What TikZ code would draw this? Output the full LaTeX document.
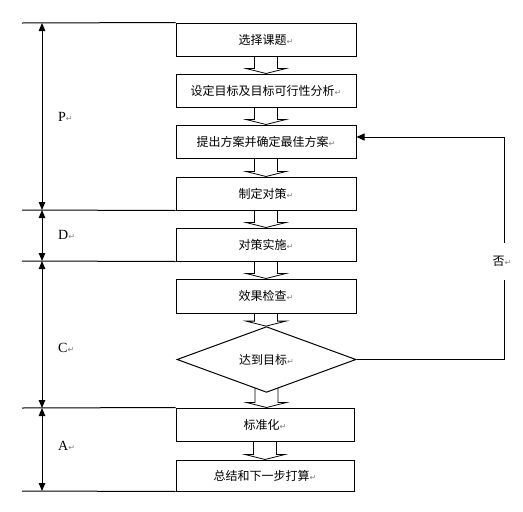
\documentclass[tikz,border=0pt]{standalone}
\usepackage{fontspec}
\setmainfont{Liberation Serif}
\newfontfamily\cjk{Noto Sans CJK SC}
\newfontfamily\dejavu{DejaVu Sans}
\usetikzlibrary{shapes.geometric,arrows.meta,calc}
\pgfdeclarelayer{background}
\pgfsetlayers{background,main}
\newcommand\parmark{{\color{gray}\dejavu\fontsize{8}{8}\selectfont ↵}}
\newcommand\hollowarrow[2]{%
  \begin{pgfonlayer}{background}
  \path let \p1=(#1.south), \p2=(#2.north) in
    [draw, fill=white, line width=0.8pt]
    (\x1-11.5pt,\y1+6pt) -- (\x1-11.5pt,\y2+5pt) -- (\x1-20pt,\y2+5pt) --
    (\x1,\y2) -- (\x1+20pt,\y2+5pt) -- (\x1+11.5pt,\y2+5pt) -- (\x1+11.5pt,\y1+6pt);
  \end{pgfonlayer}}
\begin{document}
\begin{tikzpicture}[x=1pt,y=-1pt,
  stepbox/.style={draw, fill=white, line width=1pt, inner sep=0pt,
    minimum width=180pt, minimum height=33pt, font=\cjk\fontsize{12}{14}\selectfont},
  decision/.style={diamond, draw, fill=white, line width=1pt, inner sep=0pt,
    minimum width=179pt, minimum height=59pt, font=\cjk\fontsize{12}{14}\selectfont},
  phase/.style={font=\fontsize{14}{15}\selectfont, inner sep=0pt, anchor=west},
  sep/.style={line width=1pt},
  span/.style={line width=1pt, {Triangle[length=8pt,width=6.5pt]}-{Triangle[length=8pt,width=6.5pt]}},
  fb/.style={line width=1pt},
]
\useasboundingbox (0,0) rectangle (523,512);

\node[stepbox] (b1) at (266,39.5) {选择课题\parmark};
\node[stepbox] (b2) at (266,90.5) {设定目标及目标可行性分析\parmark};
\node[stepbox] (b3) at (266,141.5) {提出方案并确定最佳方案\parmark};
\node[stepbox] (b4) at (266,193.5) {制定对策\parmark};
\node[stepbox] (b5) at (266,244.5) {对策实施\parmark};
\node[stepbox, minimum height=34pt] (b6) at (266,296) {效果检查\parmark};
\node[decision] (dia) at (266.5,359.5) {达到目标\parmark};
\node[stepbox, minimum width=178pt] (b7) at (265,424.5) {标准化\parmark};
\node[stepbox, minimum width=178pt, minimum height=31pt] (b8) at (265,475.5) {总结和下一步打算\parmark};

\hollowarrow{b1}{b2}
\hollowarrow{b2}{b3}
\hollowarrow{b3}{b4}
\hollowarrow{b4}{b5}
\hollowarrow{b5}{b6}
\hollowarrow{b6}{dia}
\hollowarrow{dia}{b7}
\hollowarrow{b7}{b8}

% phase separators
\coordinate (l0) at (22,23);
\coordinate (l1) at (22,210);
\coordinate (l2) at (22,261);
\coordinate (l3) at (22,408);
\coordinate (l4) at (22,491);
\draw[sep] (l0) -- (b1.north west);
\draw[sep] (l1) -- (b4.south west);
\draw[sep] (l2) -- (b5.south west);
\draw[sep] (l3) -- (b7.north west);
\draw[sep] (l4) -- (b8.south west);

\coordinate (a0) at (42,23);
\coordinate (a1) at (42,210);
\coordinate (a2) at (42,261);
\coordinate (a3) at (42,408);
\coordinate (a4) at (42,491);
\draw[span] (a0) -- (a1);
\draw[span] (a1) -- (a2);
\draw[span] (a2) -- (a3);
\draw[span] (a3) -- (a4);

\node[phase] (P) at (58,117) {P\parmark};
\node[phase] (D) at (58,235) {D\parmark};
\node[phase] (C) at (58,348) {C\parmark};
\node[phase] (A) at (58,446) {A\parmark};

% feedback loop
\coordinate (fbc) at (504,137);
\draw[fb, -{Triangle[length=8pt,width=7pt]}] (dia.east) -| (fbc) -- (b3.east |- fbc);
\node[fill=white, inner sep=0pt, minimum height=37pt, anchor=west,
  font=\cjk\fontsize{12}{14}\selectfont] (no) at (492.5,261.5) {否\parmark};
\end{tikzpicture}
\end{document}
